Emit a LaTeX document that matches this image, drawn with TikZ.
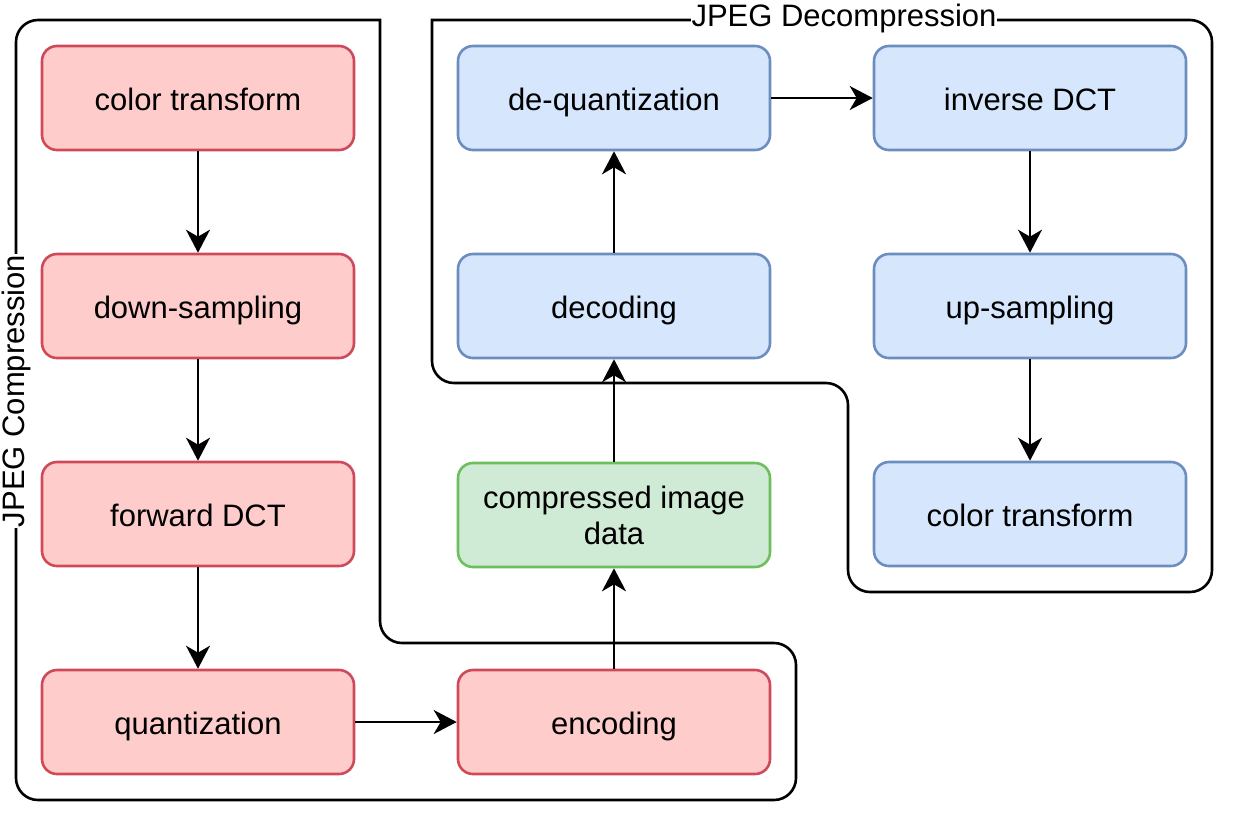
\documentclass[tikz,border=0pt]{standalone}
\usepackage{fontspec}
\setmainfont{Liberation Sans}
\usetikzlibrary{arrows.meta}
\definecolor{redfill}{HTML}{FFCCCC}
\definecolor{redline}{HTML}{CF4A58}
\definecolor{bluefill}{HTML}{D6E6FC}
\definecolor{blueline}{HTML}{6C8EBF}
\definecolor{greenfill}{HTML}{CFEAD5}
\definecolor{greenline}{HTML}{6CBF5C}
\tikzset{
  box/.style={rectangle, rounded corners=15pt, minimum width=312pt, minimum height=104pt,
    line width=2.6pt, align=center, inner sep=0pt, text height=24pt, text depth=0pt,
    font=\fontsize{31}{36}\selectfont},
  redbox/.style={box, fill=redfill, draw=redline},
  bluebox/.style={box, fill=bluefill, draw=blueline},
  greenbox/.style={box, fill=greenfill, draw=greenline},
  arr/.style={line width=2.6pt, -{Stealth[length=23pt,width=24pt,inset=7pt]}},
  outline/.style={line width=2.6pt, rounded corners=22pt, line cap=rect},
  grouplabel/.style={fill=white, inner sep=1pt, font=\fontsize{31}{36}\selectfont}
}
\begin{document}
\begin{tikzpicture}[x=1pt,y=-1pt]
\useasboundingbox (0,0) rectangle (1234,823);
% group outlines
\draw[outline] (380,20) -- (380,643) -- (796,643) -- (796,800) -- (16,800) -- (16,20) -- (380,20);
\draw[outline] (432,20) -- (1212,20) -- (1212,592) -- (848,592) -- (848,383) -- (432,383) -- (432,20);
\node[grouplabel, rotate=90] (lblc) at (16,391) {JPEG Compression};
\node[grouplabel] (lbld) at (844,18) {JPEG Decompression};
% boxes
\node[redbox] (ct) at (198,98) {color transform};
\node[redbox] (ds) at (198,306) {down-sampling};
\node[redbox] (fd) at (198,514) {forward DCT};
\node[redbox] (qu) at (198,722) {quantization};
\node[redbox] (en) at (614,722) {encoding};
\node[greenbox, text height=, text depth=] (cd) at (614,515) {compressed image\\data};
\node[bluebox] (de) at (614,306) {decoding};
\node[bluebox] (dq) at (614,98) {de-quantization};
\node[bluebox] (id) at (1030,98) {inverse DCT};
\node[bluebox] (us) at (1030,306) {up-sampling};
\node[bluebox] (ct2) at (1030,514) {color transform};
% arrows
\draw[arr] (ct) -- (ds);
\draw[arr] (ds) -- (fd);
\draw[arr] (fd) -- (qu);
\draw[arr] (qu) -- (en);
\draw[arr] (en) -- (cd);
\draw[arr] (cd) -- (de);
\draw[arr] (de) -- (dq);
\draw[arr] (dq) -- (id);
\draw[arr] (id) -- (us);
\draw[arr] (us) -- (ct2);
\end{tikzpicture}
\end{document}
